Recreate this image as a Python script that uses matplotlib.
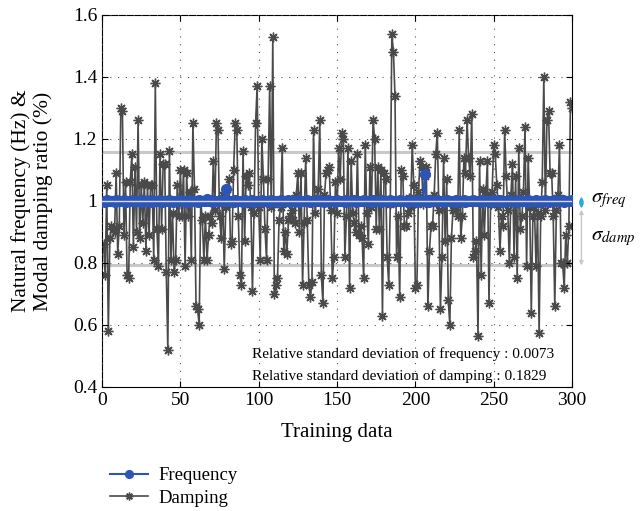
import numpy as np
import matplotlib
matplotlib.use("Agg")
import matplotlib.pyplot as plt

plt.rcParams['font.family'] = ['Liberation Serif', 'DejaVu Serif']
plt.rcParams['mathtext.fontset'] = 'stix'

# data (training samples 1..300)
training = np.arange(1, 301)

damping = [
    0.86, 0.76, 1.05, 0.58, 0.88, 0.92, 0.91, 0.90, 1.09, 0.83,
    0.92, 1.30, 1.29, 0.89, 1.06, 0.76, 0.75, 1.06, 1.15, 0.85,
    1.11, 0.90, 1.26, 0.88, 1.05, 0.93, 1.06, 0.84, 1.05, 0.89,
    1.05, 1.05, 0.81, 1.38, 0.91, 0.79, 1.15, 0.91, 1.12, 1.12,
    0.77, 0.52, 1.16, 0.81, 0.96, 0.77, 0.81, 1.05, 0.95, 1.10,
    0.95, 1.10, 0.79, 1.09, 0.95, 1.03, 0.81, 1.25, 1.04, 0.66,
    0.65, 0.60, 1.00, 0.94, 0.81, 0.95, 0.81, 0.89, 0.95, 0.93,
    1.13, 0.97, 1.25, 1.23, 0.95, 0.88, 1.02, 0.78, 0.98, 1.04,
    1.07, 0.86, 0.87, 1.10, 1.25, 1.23, 0.95, 0.76, 0.73, 1.16,
    0.87, 1.08, 1.05, 1.09, 0.98, 0.71, 0.96, 1.25, 1.37, 0.98,
    0.81, 1.20, 1.07, 0.91, 0.81, 1.07, 1.37, 0.98, 1.53, 0.70,
    0.73, 0.75, 0.94, 0.98, 1.17, 0.84, 0.90, 0.83, 0.94, 0.95,
    0.97, 0.94, 0.93, 1.02, 1.09, 0.90, 1.09, 0.73, 0.93, 1.14,
    0.94, 0.73, 0.69, 0.74, 1.23, 0.96, 1.01, 1.04, 1.26, 0.76,
    0.67, 1.02, 1.09, 1.10, 1.11, 0.97, 0.75, 0.82, 1.06, 0.96,
    1.17, 1.07, 1.22, 1.20, 0.82, 0.95, 1.17, 0.72, 1.13, 0.96,
    0.93, 0.90, 1.15, 0.89, 0.92, 0.88, 0.75, 1.18, 0.96, 0.86,
    1.11, 0.98, 1.26, 1.20, 0.91, 1.11, 0.91, 1.10, 0.63, 1.09,
    1.07, 0.82, 0.73, 0.99, 1.54, 1.48, 1.34, 0.82, 0.95, 0.69,
    1.10, 1.08, 0.92, 0.92, 0.96, 1.01, 0.98, 1.18, 1.05, 0.72,
    0.73, 1.03, 1.13, 1.11, 0.99, 1.08, 1.11, 0.66, 0.84, 0.92,
    0.92, 1.02, 1.15, 1.22, 0.97, 0.65, 0.82, 1.14, 0.87, 1.07,
    0.68, 0.60, 0.88, 0.97, 0.97, 0.98, 0.95, 1.23, 0.88, 0.95,
    1.14, 1.09, 1.26, 1.14, 1.08, 1.28, 0.82, 0.84, 0.87, 0.565,
    1.13, 0.76, 1.04, 0.89, 1.02, 1.13, 0.67, 0.99, 1.03, 1.18,
    1.15, 1.05, 0.98, 0.84, 0.95, 0.92, 1.23, 1.08, 0.97, 0.80,
    1.02, 1.12, 0.82, 1.08, 0.75, 1.17, 0.91, 0.95, 1.03, 1.24,
    0.79, 1.14, 0.98, 0.64, 0.95, 0.98, 0.79, 0.96, 0.575, 0.95,
    1.06, 1.40, 0.97, 1.26, 1.29, 1.09, 1.09, 0.95, 0.66, 0.97,
    1.02, 1.18, 0.80, 0.80, 0.72, 0.89, 0.80, 0.92, 1.32, 1.30,
]

frequency = [
    1.000, 0.998, 1.002, 1.000, 0.999, 1.001, 1.000, 0.998, 1.003, 1.000,
    1.001, 0.999, 1.000, 1.002, 0.998, 1.000, 1.001, 0.999, 1.000, 1.002,
    1.000, 0.999, 1.001, 1.000, 0.998, 1.002, 1.000, 1.001, 0.999, 1.000,
    1.002, 0.998, 1.000, 1.001, 0.999, 1.000, 1.003, 0.998, 1.000, 1.001,
    1.000, 0.999, 1.002, 1.000, 0.998, 1.001, 1.000, 0.999, 1.000, 1.002,
    0.999, 1.000, 1.001, 0.998, 1.000, 1.002, 0.999, 1.000, 1.001, 1.000,
    0.998, 1.002, 1.000, 0.999, 1.001, 1.000, 1.005, 0.999, 1.000, 1.002,
    0.998, 1.000, 1.001, 0.999, 1.000, 1.002, 0.999, 1.000, 1.038, 1.000,
    0.999, 1.001, 1.000, 0.998, 1.002, 1.000, 0.999, 1.001, 1.000, 0.998,
    1.002, 1.000, 1.001, 0.999, 1.000, 1.002, 0.998, 1.000, 1.001, 0.999,
    1.000, 1.002, 0.999, 1.000, 1.001, 1.000, 0.998, 1.002, 1.000, 0.999,
    1.001, 1.000, 0.998, 1.002, 1.000, 1.001, 0.999, 1.000, 1.002, 0.998,
    1.000, 1.001, 0.999, 1.000, 1.003, 0.998, 1.000, 1.001, 1.000, 0.999,
    1.002, 1.000, 0.998, 1.001, 1.000, 0.999, 1.000, 1.002, 0.999, 1.000,
    1.001, 0.998, 1.000, 1.002, 0.999, 1.000, 1.001, 1.000, 0.998, 1.002,
    1.000, 0.999, 1.001, 1.000, 0.998, 1.002, 1.000, 1.001, 0.999, 1.000,
    1.002, 0.998, 1.000, 1.001, 0.999, 1.000, 1.002, 0.999, 1.000, 1.001,
    1.000, 0.998, 1.002, 1.000, 0.999, 1.001, 1.000, 0.998, 1.002, 1.000,
    1.001, 0.999, 1.000, 1.002, 0.998, 1.000, 1.001, 0.999, 1.000, 1.002,
    0.999, 1.000, 1.001, 1.000, 0.998, 1.002, 1.000, 0.999, 1.001, 1.000,
    0.998, 1.002, 1.000, 1.001, 0.999, 1.086, 1.000, 1.002, 0.998, 1.000,
    1.001, 0.999, 1.000, 1.002, 0.999, 1.000, 1.001, 0.998, 1.000, 1.002,
    1.000, 0.999, 1.001, 1.000, 0.998, 1.002, 1.000, 1.001, 0.999, 1.000,
    1.002, 0.998, 1.000, 1.001, 0.999, 1.000, 1.002, 0.999, 1.000, 1.001,
    1.000, 0.998, 1.002, 1.000, 0.999, 1.001, 1.000, 0.998, 1.002, 1.000,
    1.001, 0.999, 1.004, 1.002, 0.998, 1.000, 1.001, 0.999, 1.000, 1.002,
    0.999, 1.000, 1.001, 1.000, 0.998, 1.002, 1.000, 0.999, 1.001, 1.000,
    0.998, 1.002, 1.000, 1.001, 0.999, 1.000, 1.002, 0.998, 1.000, 1.001,
    1.000, 0.999, 1.002, 1.000, 0.998, 1.001, 1.000, 0.999, 1.002, 1.000,
    1.001, 0.999, 1.000, 1.002, 0.998, 1.000, 1.001, 0.999, 1.000, 1.002,
]

damp_upper = 1.157
damp_lower = 0.793
freq_mean = 1.0
rsd_freq = 0.0073
rsd_damp = 0.1829

fig = plt.figure(figsize=(6.43, 5.11), dpi=100)
ax = fig.add_axes([0.1587, 0.2427, 0.7309, 0.7280])

ax.axhline(damp_upper, color='#c9c9c9', lw=2.2, zorder=1)
ax.axhline(damp_lower, color='#c9c9c9', lw=2.2, zorder=1)

# asterisk markers like MATLAB '*'
ax.plot(training, damping, color='#4a4a4a', lw=1.2, marker=(8, 2, 0),
        markersize=7, markeredgewidth=1.0, markeredgecolor='#4a4a4a',
        label='Damping', zorder=2)
ax.plot(training, frequency, color='#2c55b5', lw=1.5, marker='o',
        markersize=7, markerfacecolor='#2c55b5', markeredgecolor='#2c55b5',
        label='Frequency', zorder=3)
ax.axhline(freq_mean, color='#d9dde6', lw=1.0, zorder=4)

ax.set_xlim(0, 300)
ax.set_ylim(0.4, 1.6)
ax.set_xticks([0, 50, 100, 150, 200, 250, 300])
ax.set_yticks([0.4, 0.6, 0.8, 1.0, 1.2, 1.4, 1.6])
ax.set_yticklabels(['0.4', '0.6', '0.8', '1', '1.2', '1.4', '1.6'])
ax.tick_params(direction='in', top=True, right=True, labelsize=14, length=4)
ax.grid(True, color='#555555', linestyle=(0, (1, 6)), lw=0.8)
ax.set_axisbelow(False)

ax.set_xlabel('Training data', fontsize=15, labelpad=10)
ax.set_ylabel('Natural frequency (Hz) &\nModal damping ratio (%)',
              fontsize=15.5, linespacing=1.15, labelpad=14)

ax.text(0.32, 0.088, f'Relative standard deviation of frequency : {rsd_freq:.4f}',
        transform=ax.transAxes, fontsize=11, va='center')
ax.text(0.32, 0.030, f'Relative standard deviation of damping : {rsd_damp:.4f}',
        transform=ax.transAxes, fontsize=11, va='center')

# sigma markers to the right of the axes
ax.annotate('', xy=(306, 1.014), xytext=(306, 0.976),
            arrowprops=dict(arrowstyle='<|-|>', color='#29a8e0', lw=1.2,
                            mutation_scale=6, shrinkA=0, shrinkB=0),
            annotation_clip=False)
ax.annotate('', xy=(306, 0.972), xytext=(306, 0.792),
            arrowprops=dict(arrowstyle='<|-|>', color='#c8c8c8', lw=1.0,
                            mutation_scale=6, shrinkA=0, shrinkB=0),
            annotation_clip=False)
ax.text(312, 1.0, r'$\sigma_{freq}$', fontsize=15, va='center', clip_on=False)
ax.text(312, 0.88, r'$\sigma_{damp}$', fontsize=15, va='center', clip_on=False)

handles, labels = ax.get_legend_handles_labels()
fig.legend(handles[::-1], labels[::-1], loc='lower left',
           bbox_to_anchor=(0.145, -0.025), frameon=False, fontsize=13.5,
           handlelength=2.0, handletextpad=0.6, labelspacing=0.3,
           markerscale=0.8)

fig.savefig('out.png', dpi=100)
